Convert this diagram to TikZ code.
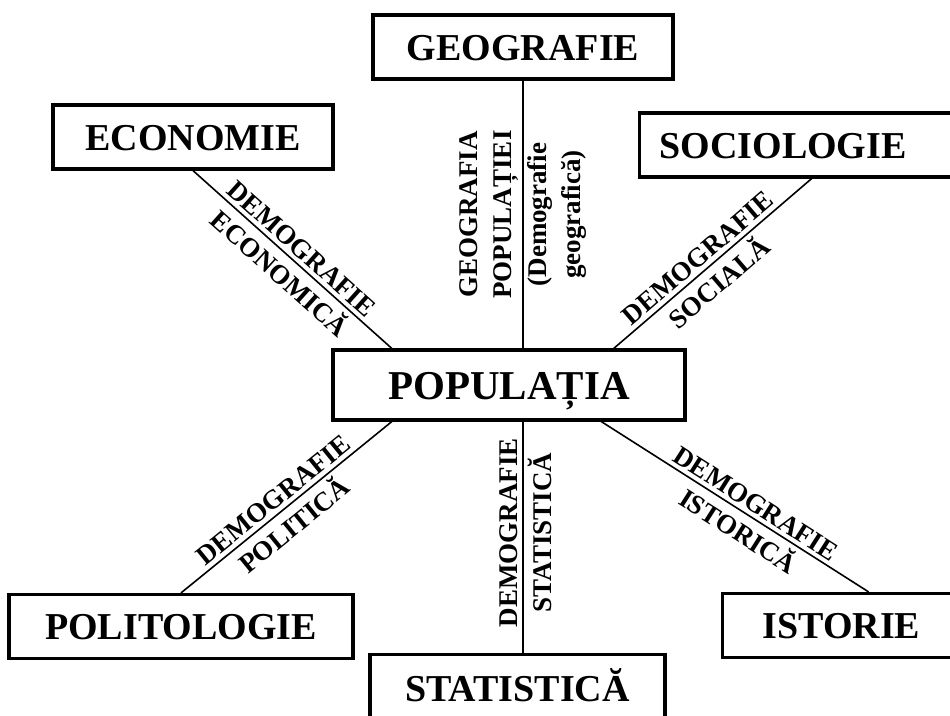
\documentclass[tikz,border=0pt]{standalone}
\usepackage{fontspec}
\setmainfont{Liberation Serif}
\usetikzlibrary{positioning, calc}

\begin{document}
\begin{tikzpicture}[x=1pt, y=-1pt,
    caseta/.style={draw, line width=3.2pt, inner xsep=0pt, inner ysep=19pt,
      text height=26pt, text depth=0pt, font=\fontsize{38}{44}\selectfont\bfseries},
    eticheta/.style={sloped, inner sep=4pt, align=center,
      font=\fontsize{27}{34}\selectfont\bfseries},
    legatura/.style={line width=1.6pt}]
    \useasboundingbox (0,0) rectangle (950,715);
    % Caseta centrala
    \node[caseta, minimum width=352pt, inner ysep=21pt, text height=28pt,
      font=\fontsize{41}{48}\selectfont\bfseries] (pop) at (509,385) {POPULAȚIA};
    % Stiintele din jur
    \node[caseta, minimum width=300pt] (geo) at (523,47) {GEOGRAFIE};
    \node[caseta, minimum width=280pt] (econ) at (193,137) {ECONOMIE};
    \node[caseta, anchor=west, inner xsep=20pt, text width=304pt, align=left] (socio) at (638,145) {SOCIOLOGIE};
    \node[caseta, minimum width=344pt] (polit) at (181,626.5) {POLITOLOGIE};
    \node[caseta, anchor=west, inner xsep=40pt, text width=212pt, align=left] (ist) at (721,625.5) {ISTORIE};
    \node[caseta, anchor=north, minimum width=295pt, inner ysep=21pt] (stat) at (517.5,653) {STATISTICĂ};

    % Legaturi de sus
    \draw[legatura] (econ.south) -- node[eticheta, above] {DEMOGRAFIE}
      node[eticheta, below] {ECONOMICĂ} ($(pop.north west)!.17!(pop.north east)$);
    \draw[legatura] (pop.north -| geo.south) -- node[eticheta, above] {GEOGRAFIA\\POPULAȚIEI}
      node[eticheta, below] {(Demografie\\geografică)} (geo.south);
    \draw[legatura] (socio.south) -- node[eticheta, above, pos=.53] {DEMOGRAFIE}
      node[eticheta, below, pos=.53] {SOCIALĂ} ($(pop.north west)!.795!(pop.north east)$);
    % Legaturi de jos
    \draw[legatura] ($(pop.south west)!.17!(pop.south east)$) -- node[eticheta, above, pos=.52] {DEMOGRAFIE}
      node[eticheta, below, pos=.52] {POLITICĂ} (polit.north);
    \draw[legatura] (stat.north -| geo.south) -- node[eticheta, above, pos=.52] {DEMOGRAFIE}
      node[eticheta, below, pos=.52] {STATISTICĂ} (pop.south -| geo.south);
    \draw[legatura] ($(pop.south west)!.76!(pop.south east)$) -- node[eticheta, above, pos=.55] {DEMOGRAFIE}
      node[eticheta, below, pos=.55] {ISTORICĂ} (ist.north);
\end{tikzpicture}
\end{document}
